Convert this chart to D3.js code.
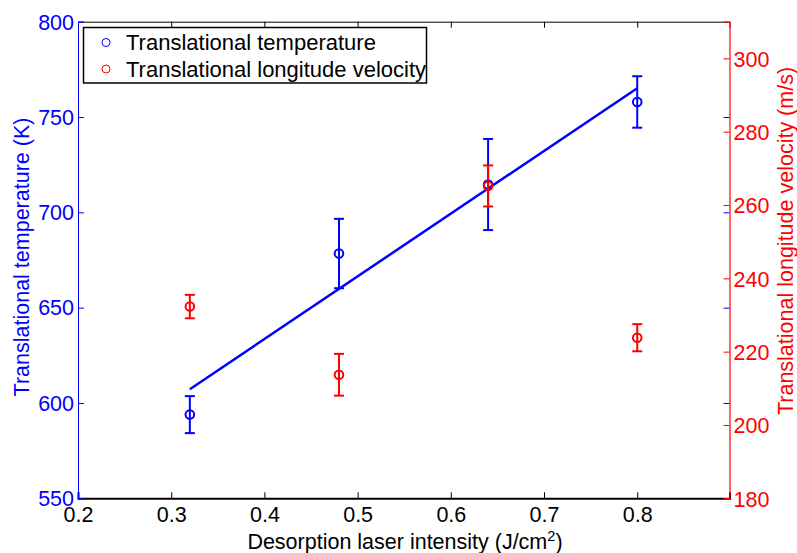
<!DOCTYPE html>
<html>
<head>
<meta charset="utf-8">
<script src="https://cdn.jsdelivr.net/npm/d3@7"></script>
<style>
  html, body { margin: 0; padding: 0; background: #fff; }
  svg { display: block; font-family: "Liberation Sans", Arial, Helvetica, sans-serif; }
</style>
</head>
<body>
<svg id="chart" width="797" height="553"></svg>
<script>
// Desorption laser intensity (J/cm^2)
const intensity = [0.32, 0.48, 0.64, 0.8];
// Translational temperature (K) and its error
const temperature = [593.9, 678.4, 714.6, 757.9];
const temperatureErr = [9.7, 18.2, 23.9, 13.5];
// Translational longitude velocity (m/s) and its error
const velocity = [232.3, 213.7, 265.2, 223.8];
const velocityErr = [3.2, 5.7, 5.6, 3.7];
// Linear fit of the temperature
const fitIntensity = [0.32, 0.8];
const fitTemperature = [607.2, 765.1];

const xTicks = [0.2, 0.3, 0.4, 0.5, 0.6, 0.7, 0.8];
const leftTicks = [550, 600, 650, 700, 750, 800];
const rightTicks = [180, 200, 220, 240, 260, 280, 300];
const legendLabels = ["Translational temperature", "Translational longitude velocity"];

const BLUE = "#0000ff", RED = "#ff0000";
const FONT = 21.5;

const plot = { left: 78, right: 729.5, top: 21.7, bottom: 498.3 };

const svg = d3.select("#chart");

const x = d3.scaleLinear().domain([0.2, 0.899]).range([plot.left, plot.right]);
const yL = d3.scaleLinear().domain([550, 800]).range([plot.bottom, plot.top]);
const yR = d3.scaleLinear().domain([180, 310]).range([plot.bottom, plot.top]);

const tickLen = 6;

// top frame line with inward ticks
const topAxis = svg.append("g")
  .attr("transform", `translate(0,${plot.top})`)
  .call(d3.axisTop(x).tickValues(xTicks).tickSize(-tickLen).tickFormat(""));
topAxis.select(".domain").attr("stroke", "#000").attr("stroke-width", 1);
topAxis.selectAll(".tick line").attr("stroke", "#000");

// bottom axis
const bottomAxis = svg.append("g")
  .attr("transform", `translate(0,${plot.bottom})`)
  .call(d3.axisBottom(x).tickValues(xTicks).tickSize(-tickLen).tickPadding(10)
    .tickFormat(d3.format(".1f")));
bottomAxis.select(".domain").attr("stroke", "#000").attr("stroke-width", 2);
bottomAxis.selectAll(".tick line").attr("stroke", "#000");
bottomAxis.selectAll(".tick text")
  .attr("fill", "#000").attr("font-size", FONT).attr("font-family", null)
  .attr("y", 24).attr("dy", "0");

// left axis (temperature)
const leftAxis = svg.append("g")
  .attr("transform", `translate(${plot.left},0)`)
  .call(d3.axisLeft(yL).tickValues(leftTicks).tickSize(-tickLen).tickPadding(4));
leftAxis.select(".domain").attr("stroke", BLUE).attr("stroke-width", 1);
leftAxis.selectAll(".tick line").attr("stroke", BLUE);
leftAxis.selectAll(".tick text")
  .attr("fill", BLUE).attr("font-size", FONT).attr("font-family", null)
  .attr("dy", "0.34em");

// mirrored temperature ticks on the right edge
const leftMirror = svg.append("g")
  .attr("transform", `translate(${plot.right},0)`)
  .call(d3.axisRight(yL).tickValues(leftTicks.slice(1, -1)).tickSize(-tickLen).tickFormat(""));
leftMirror.select(".domain").remove();
leftMirror.selectAll(".tick line").attr("stroke", BLUE);

// right axis (velocity)
const rightAxis = svg.append("g")
  .attr("transform", `translate(${plot.right},0)`)
  .call(d3.axisRight(yR).tickValues(rightTicks).tickSize(-tickLen).tickPadding(4));
rightAxis.select(".domain").attr("stroke", RED).attr("stroke-width", 1.2);
rightAxis.selectAll(".tick line").attr("stroke", RED);
rightAxis.selectAll(".tick text")
  .attr("fill", RED).attr("font-size", FONT).attr("font-family", null)
  .attr("dy", "0.36em");

// axis titles
svg.append("text")
  .attr("x", 405).attr("y", 549)
  .attr("text-anchor", "middle").attr("font-size", FONT).attr("fill", "#000")
  .call(t => {
    t.append("tspan").text("Desorption laser intensity (J/cm");
    t.append("tspan").attr("font-size", FONT * 0.68).attr("dy", -8).text("2");
    t.append("tspan").attr("dy", 8).text(")");
  });

svg.append("text")
  .attr("transform", `translate(21,257) rotate(-90)`)
  .attr("text-anchor", "middle").attr("dy", "0.36em")
  .attr("font-size", FONT).attr("fill", BLUE)
  .text("Translational temperature (K)");

svg.append("text")
  .attr("transform", `translate(785,241) rotate(-90)`)
  .attr("text-anchor", "middle").attr("dy", "0.36em")
  .attr("font-size", FONT).attr("fill", RED)
  .text("Translational longitude velocity (m/s)");

// error bars with circle markers
function drawSeries(values, errs, yScale, color) {
  const g = svg.append("g").attr("stroke", color).attr("fill", "none").attr("stroke-width", 2);
  const pts = intensity.map((d, i) => ({ x: d, y: values[i], e: errs[i] }));
  const capHalf = 5;
  g.selectAll("line.stem").data(pts).join("line").attr("class", "stem")
    .attr("x1", d => x(d.x)).attr("x2", d => x(d.x))
    .attr("y1", d => yScale(d.y - d.e)).attr("y2", d => yScale(d.y + d.e));
  g.selectAll("line.capTop").data(pts).join("line").attr("class", "capTop")
    .attr("x1", d => x(d.x) - capHalf).attr("x2", d => x(d.x) + capHalf)
    .attr("y1", d => yScale(d.y + d.e)).attr("y2", d => yScale(d.y + d.e));
  g.selectAll("line.capBot").data(pts).join("line").attr("class", "capBot")
    .attr("x1", d => x(d.x) - capHalf).attr("x2", d => x(d.x) + capHalf)
    .attr("y1", d => yScale(d.y - d.e)).attr("y2", d => yScale(d.y - d.e));
  g.selectAll("circle").data(pts).join("circle")
    .attr("cx", d => x(d.x)).attr("cy", d => yScale(d.y)).attr("r", 4.3);
}

drawSeries(temperature, temperatureErr, yL, BLUE);

// linear fit line
svg.append("path")
  .datum(fitIntensity.map((d, i) => [d, fitTemperature[i]]))
  .attr("fill", "none").attr("stroke", BLUE).attr("stroke-width", 2.5)
  .attr("d", d3.line().x(d => x(d[0])).y(d => yL(d[1])));

drawSeries(velocity, velocityErr, yR, RED);

// legend
const legend = svg.append("g");
legend.append("rect")
  .attr("x", 83.5).attr("y", 27.5).attr("width", 343).attr("height", 55.5)
  .attr("fill", "#fff").attr("stroke", "#000").attr("stroke-width", 1.5);
const legendColors = [BLUE, RED];
legendLabels.forEach((label, i) => {
  const cy = 42.5 + i * 26.5;
  legend.append("circle")
    .attr("cx", 106).attr("cy", cy).attr("r", 4)
    .attr("fill", "none").attr("stroke", legendColors[i]).attr("stroke-width", 1);
  legend.append("text")
    .attr("x", 126).attr("y", cy).attr("dy", "0.36em")
    .attr("font-size", 22).attr("fill", "#000")
    .text(label);
});
</script>
</body>
</html>
